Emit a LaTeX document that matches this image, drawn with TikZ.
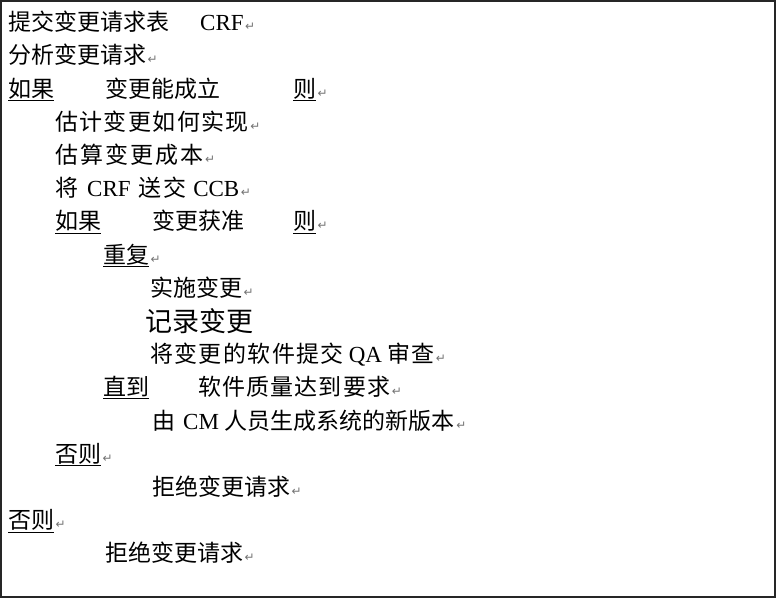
\documentclass[tikz,border=0pt]{standalone}
\usepackage{fontspec}
\setmainfont{Noto Sans CJK SC}
\newfontfamily\lat{Liberation Serif}
\newfontfamily\dv{DejaVu Sans}
\newcommand\rmk{\hspace{1.5pt}{\dv\color{black!55}\fontsize{12}{12}\selectfont ↵}}
\newcommand\ls[1]{\addfontfeatures{LetterSpace=#1}}
\newcommand\la[1]{{\lat #1}}
\tikzset{
  t/.style={anchor=base west, inner sep=0pt, font=\fontsize{23}{23}\selectfont},
  big/.style={t, font=\fontsize{27}{27}\selectfont},
  frame/.style={draw=black!85, line width=2pt},
}
\begin{document}
\begin{tikzpicture}[x=1pt, y=-1pt]
\useasboundingbox (0,0) rectangle (779,603);
\draw[frame] (1.3,1.3) rectangle (775,597);
% line 1
\node[t] (l1a) at (8,30.7) {提交变更请求表};
\node[t] (l1b) at (200,30.7) {\la{CRF}\rmk};
% line 2
\node[t] (l2) at (8,63.9) {分析变更请求\rmk};
% line 3
\node[t] (l3a) at (8,97.1) {\underline{如果}};
\node[t] (l3b) at (105,97.1) {变更能成立};
\node[t] (l3c) at (293,97.1) {\underline{则}\rmk};
% line 4-6
\node[t] (l4) at (55,130.3) {\ls{6}估计变更如何实现\rmk};
\node[t] (l5) at (55,163.5) {\ls{9}估算变更成本\rmk};
\node[t] (l6) at (55,196.7) {\ls{7}将\hspace{9pt}\la{CRF}\hspace{8pt}送交\hspace{7pt}\la{CCB}\rmk};
% line 7
\node[t] (l7a) at (55,229.9) {\underline{如果}};
\node[t] (l7b) at (152,229.9) {变更获准};
\node[t] (l7c) at (293,229.9) {\underline{则}\rmk};
% line 8-11
\node[t] (l8) at (103,263.1) {\underline{重复}\rmk};
\node[t] (l9) at (150,296.3) {实施变更\rmk};
\node[big] (l10) at (145,331) {记录变更};
\node[t] (l11) at (150,362.7) {\ls{6}将变更的软件提交\hspace{5pt}\la{QA}\hspace{5pt}审查\rmk};
% line 12
\node[t] (l12a) at (103,395.9) {\underline{直到}};
\node[t] (l12b) at (198,395.9) {\ls{5}软件质量达到要求\rmk};
% line 13
\node[t] (l13) at (152,429.1) {由\hspace{8pt}\la{CM}\hspace{6pt}人员生成系统的新版本\rmk};
% line 14-17
\node[t] (l14) at (55,462.3) {\underline{否则}\rmk};
\node[t] (l15) at (152,495.5) {拒绝变更请求\rmk};
\node[t] (l16) at (8,528.7) {\underline{否则}\rmk};
\node[t] (l17) at (105,561.9) {拒绝变更请求\rmk};
\end{tikzpicture}
\end{document}
